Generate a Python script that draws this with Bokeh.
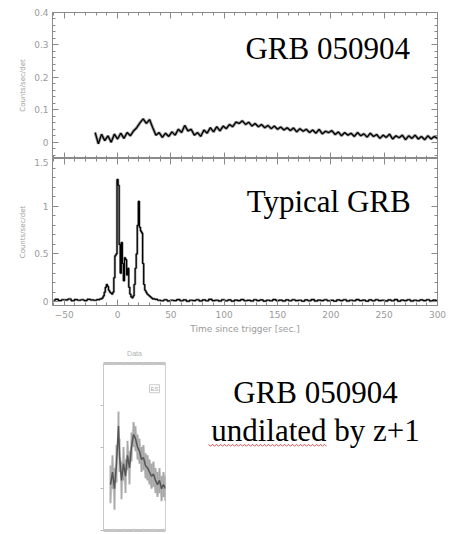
import numpy as np
from bokeh.plotting import figure
from bokeh.models import Range1d, LinearAxis, FixedTicker, Label, CustomLabelingPolicy
from bokeh.layouts import column, row
from bokeh.embed import file_html
from bokeh.resources import INLINE

# ---------------- data ----------------
# GRB 050904 light curve (3 s bins, starting at t = -21 s)
grb050904_t0 = -21
grb050904_dt = 3
grb050904_rate = [
    0.030, -0.005, 0.025, 0.005, 0.020, 0.000, 0.025, 0.010, 0.028, 0.012,
    0.030, 0.020, 0.035, 0.045, 0.060, 0.072, 0.058, 0.070, 0.045, 0.022,
    0.030, 0.015, 0.028, 0.018, 0.032, 0.022, 0.040, 0.030, 0.052, 0.035,
    0.040, 0.022, 0.030, 0.018, 0.038, 0.028, 0.045, 0.032, 0.048, 0.035,
    0.050, 0.042, 0.055, 0.048, 0.062, 0.058, 0.066, 0.055, 0.062, 0.050,
    0.058, 0.048, 0.055, 0.045, 0.052, 0.042, 0.050, 0.040, 0.047, 0.038,
    0.045, 0.036, 0.044, 0.032, 0.042, 0.034, 0.040, 0.030, 0.038, 0.028,
    0.040, 0.026, 0.034, 0.030, 0.036, 0.024, 0.032, 0.020, 0.030, 0.022,
    0.028, 0.018, 0.030, 0.020, 0.026, 0.016, 0.028, 0.018, 0.024, 0.012,
    0.022, 0.015, 0.025, 0.010, 0.020, 0.014, 0.022, 0.008, 0.020, 0.012,
    0.022, 0.010, 0.018, 0.008, 0.020, 0.010, 0.018, 0.012,
]

# Typical GRB light curve
typ_pre_t0 = -60      # 3 s bins before the burst
typ_pre_rate = [0.015, 0.025, 0.012, 0.020, 0.018, 0.028, 0.010, 0.022,
                0.015, 0.020, 0.012, 0.025, 0.018, 0.015, 0.022, 0.030]
typ_burst_t0 = -14    # 1 s bins during the burst
typ_burst_rate = [
    0.04, 0.06, 0.10, 0.15, 0.18, 0.16, 0.12, 0.10, 0.09, 0.08,
    0.10, 0.25, 0.48, 0.50, 1.28, 1.22, 0.60, 0.30, 0.62, 0.40,
    0.22, 0.46, 0.44, 0.28, 0.35, 0.15, 0.08, 0.05, 0.04, 0.06,
    0.18, 0.35, 0.50, 0.80, 1.05, 0.78, 0.74, 0.72, 0.40, 0.18,
    0.12, 0.10, 0.08, 0.07, 0.06, 0.05, 0.04, 0.03, 0.03,
]
typ_post_t0 = 36      # 3 s bins after the burst
typ_post_rate = [
    0.025, 0.015, 0.010, 0.020, 0.008, 0.015, 0.012, 0.022, 0.010, 0.018,
    0.005, 0.015, 0.012, 0.020, 0.008, 0.018, 0.010, 0.025, 0.012, 0.015,
    0.008, 0.020, 0.010, 0.018, 0.006, 0.016, 0.012, 0.022, 0.010, 0.014,
    0.008, 0.020, 0.012, 0.018, 0.006, 0.015, 0.010, 0.022, 0.012, 0.016,
    0.008, 0.018, 0.010, 0.020, 0.012, 0.015, 0.006, 0.018, 0.010, 0.022,
    0.008, 0.016, 0.012, 0.020, 0.010, 0.014, 0.006, 0.018, 0.012, 0.020,
    0.008, 0.015, 0.010, 0.022, 0.012, 0.016, 0.006, 0.018, 0.010, 0.020,
    0.012, 0.015, 0.008, 0.018, 0.010, 0.022, 0.006, 0.016, 0.012, 0.020,
    0.008, 0.015, 0.010, 0.018, 0.012, 0.020, 0.008, 0.016, 0.012,
]

# inset: GRB 050904 undilated by (z+1) (arbitrary units)
inset_x = [7, 9, 11, 13, 15, 16, 18, 20, 22, 24, 26, 28, 30, 32, 34, 36, 38,
           40, 42, 44, 46, 48, 50, 52, 54, 56, 58, 60, 62]
inset_y = [1.1, 1.4, 1.0, 1.6, 2.5, 1.8, 1.2, 1.6, 1.3, 1.8, 1.5, 2.0, 2.3,
           2.2, 2.0, 1.9, 1.7, 1.75, 1.55, 1.5, 1.4, 1.3, 1.35, 1.2, 1.1,
           1.2, 1.0, 1.1, 1.0]
inset_err = [0.45, 0.4, 0.5, 0.45, 0.35, 0.4, 0.45, 0.4, 0.4, 0.35, 0.4,
             0.35, 0.3, 0.3, 0.3, 0.3, 0.3, 0.3, 0.3, 0.3, 0.3, 0.3, 0.3,
             0.3, 0.3, 0.3, 0.3, 0.3, 0.3]

x_major = [-50, 0, 50, 100, 150, 200, 250, 300]
top_y_major = [0, 0.1, 0.2, 0.3, 0.4]
bot_y_major = [0, 0.5, 1, 1.5]

# ---------------- helpers ----------------
AX_COL = "#8a8a8a"
LAB_COL = "#9a9a9a"
HIDE_CODE = """
for (const i of indices) { indices.unset(i) }
return indices
"""


def make_axis(ticks, minor, labels=True, overrides=None):
    ax = LinearAxis(ticker=FixedTicker(ticks=ticks, minor_ticks=minor))
    ax.axis_line_color = None
    ax.major_tick_line_color = AX_COL
    ax.minor_tick_line_color = AX_COL
    ax.major_tick_in = 6
    ax.major_tick_out = 0
    ax.minor_tick_in = 3
    ax.minor_tick_out = 0
    if labels:
        ax.major_label_text_font_size = "9px"
        ax.major_label_text_color = LAB_COL
        ax.major_label_text_font = "DejaVu Sans"
        ax.major_label_standoff = 4
        if overrides:
            ax.major_label_overrides = overrides
    else:
        ax.major_label_text_font_size = "0px"
        ax.major_label_standoff = 0
        ax.major_label_policy = CustomLabelingPolicy(code=HIDE_CODE)
    return ax


x_minor = list(range(-60, 301, 10))
top_minor = [round(-0.04 + 0.02 * i, 2) for i in range(23)]
bot_minor = [round(0.1 * i, 1) for i in range(16)]

top_over = {0: "0", 0.1: "0.1", 0.2: "0.2", 0.3: "0.3", 0.4: "0.4"}
bot_over = {0: "0", 0.5: "0.5", 1: "1", 1.5: "1.5"}

# ---------------- top panel ----------------
pA = figure(width=453, height=158, x_range=Range1d(-61, 300),
            y_range=Range1d(-0.05, 0.4), output_backend="svg",
            toolbar_location=None, x_axis_location=None, y_axis_location=None,
            min_border_left=52, min_border_right=16, min_border_top=12,
            min_border_bottom=0)
pA.grid.visible = False
pA.outline_line_color = AX_COL
la = make_axis(top_y_major, top_minor, True, top_over)
la.axis_label = "Counts/sec/det"
la.axis_label_text_font_size = "7px"
la.axis_label_text_font = "DejaVu Sans"
la.axis_label_text_font_style = "normal"
la.axis_label_text_color = LAB_COL
la.axis_label_standoff = 4
pA.add_layout(la, "left")
pA.add_layout(make_axis(top_y_major, top_minor, False), "right")
pA.add_layout(make_axis(x_major, x_minor, False), "above")
pA.add_layout(make_axis(x_major, x_minor, False), "below")

tA = [grb050904_t0 + grb050904_dt * i for i in range(len(grb050904_rate))]
pA.line(tA, grb050904_rate, line_color="#9a9a9a", line_width=3)
pA.line(tA, grb050904_rate, line_color="black", line_width=1.3)
pA.add_layout(Label(x=197, y=0.289, text="GRB 050904", text_align="center",
                    text_baseline="alphabetic", text_font="Liberation Serif",
                    text_font_size="31px", text_color="black"))

# ---------------- bottom panel ----------------
pB = figure(width=453, height=182, x_range=pA.x_range,
            y_range=Range1d(-0.04, 1.5), output_backend="svg",
            toolbar_location=None, x_axis_location=None, y_axis_location=None,
            min_border_left=52, min_border_right=16, min_border_top=0,
            min_border_bottom=35)
pB.grid.visible = False
pB.outline_line_color = AX_COL
lb = make_axis(bot_y_major, bot_minor, True, bot_over)
lb.axis_label = "Counts/sec/det"
lb.axis_label_text_font_size = "7px"
lb.axis_label_text_font = "DejaVu Sans"
lb.axis_label_text_font_style = "normal"
lb.axis_label_text_color = LAB_COL
lb.axis_label_standoff = 4
pB.add_layout(lb, "left")
pB.add_layout(make_axis(bot_y_major, bot_minor, False), "right")
pB.add_layout(make_axis(x_major, x_minor, False), "above")
bx = make_axis(x_major, x_minor, True)
bx.axis_label = "Time since trigger [sec.]"
bx.axis_label_text_font_size = "9px"
bx.axis_label_text_font = "DejaVu Sans"
bx.axis_label_text_font_style = "normal"
bx.axis_label_text_color = LAB_COL
bx.axis_label_standoff = 3
bx.major_label_standoff = 5
pB.add_layout(bx, "below")

tB = ([typ_pre_t0 + 3 * i for i in range(len(typ_pre_rate))]
      + [typ_burst_t0 + i for i in range(len(typ_burst_rate))]
      + [typ_post_t0 + 3 * i for i in range(len(typ_post_rate))])
rB = typ_pre_rate + typ_burst_rate + typ_post_rate
pB.step(tB, rB, mode="center", line_color="#a0a0a0", line_width=2.5)
pB.step(tB, rB, mode="center", line_color="black", line_width=1.2)
pB.add_layout(Label(x=198, y=1.05, text="Typical GRB", text_align="center",
                    text_baseline="alphabetic", text_font="Liberation Serif",
                    text_font_size="31px", text_color="black"))

# ---------------- inset ----------------
pI = figure(width=200, height=194, x_range=Range1d(0, 62), y_range=Range1d(0, 4),
            output_backend="svg", toolbar_location=None,
            x_axis_location=None, y_axis_location=None,
            min_border_left=103, min_border_right=35, min_border_top=23,
            min_border_bottom=4, title="Data")
pI.title.text_font_size = "7px"
pI.title.text_color = "#b0b0b0"
pI.title.text_font_style = "normal"
pI.title.align = "center"
pI.title.standoff = 13
pI.grid.visible = False
pI.outline_line_color = "#cfcfcf"
for side in ("above", "below"):
    a = LinearAxis(ticker=FixedTicker(ticks=[10, 20, 30, 40, 50, 60]))
    a.axis_line_color = "#c4c4c4"
    a.axis_line_width = 3
    a.major_tick_line_color = "#d0d0d0"
    a.major_tick_in = 2
    a.major_tick_out = 0
    a.minor_tick_line_color = None
    a.major_label_text_font_size = "0px"
    a.major_label_standoff = 0
    a.major_label_policy = CustomLabelingPolicy(code=HIDE_CODE)
    pI.add_layout(a, side)
ia = LinearAxis(ticker=FixedTicker(ticks=[0, 1, 2, 3]))
ia.axis_line_color = "#c8c8c8"
ia.major_tick_line_color = "#bbbbbb"
ia.major_tick_in = 0
ia.major_tick_out = 3
ia.minor_tick_line_color = None
ia.major_label_text_font_size = "0px"
ia.major_label_standoff = 0
ia.major_label_policy = CustomLabelingPolicy(code=HIDE_CODE)
pI.add_layout(ia, "left")
lo = [y - e for y, e in zip(inset_y, inset_err)]
hi = [y + e for y, e in zip(inset_y, inset_err)]
pI.varea(inset_x, lo, hi, fill_color="#c4c4c4", fill_alpha=0.6)
pI.segment(inset_x, lo, inset_x, hi, line_color="#9a9a9a", line_width=2, line_alpha=0.8)
pI.line(inset_x, inset_y, line_color="#555555", line_width=1.5)
pI.add_layout(Label(x=46, y=3.3, text="ES", text_font_size="6px",
                    text_color="#aaaaaa", border_line_color="#cccccc",
                    background_fill_color="white", padding=1))

# ---------------- text panel ----------------
pT = figure(width=253, height=194, x_range=Range1d(0, 253), y_range=Range1d(194, 0),
            output_backend="svg", toolbar_location=None,
            x_axis_location=None, y_axis_location=None,
            min_border_left=0, min_border_right=0, min_border_top=0,
            min_border_bottom=0)
pT.grid.visible = False
pT.outline_line_color = None
for txt, yb in (("GRB 050904", 34), ("undilated by z+1", 78)):
    pT.add_layout(Label(x=115, y=yb, text=txt, text_align="center",
                        text_baseline="alphabetic",
                        text_font="Liberation Serif",
                        text_font_size="31px", text_color="black"))
sq_x = np.arange(8, 128, 2.0)
sq_y = 95 + np.where(np.arange(len(sq_x)) % 2 == 0, -1.2, 1.2)
pT.line(sq_x, sq_y, line_color="#e05050", line_width=1)

layout = column(pA, pB, row(pI, pT, spacing=0), spacing=0)

with open("out.html", "w") as f:
    f.write(file_html(layout, INLINE))
